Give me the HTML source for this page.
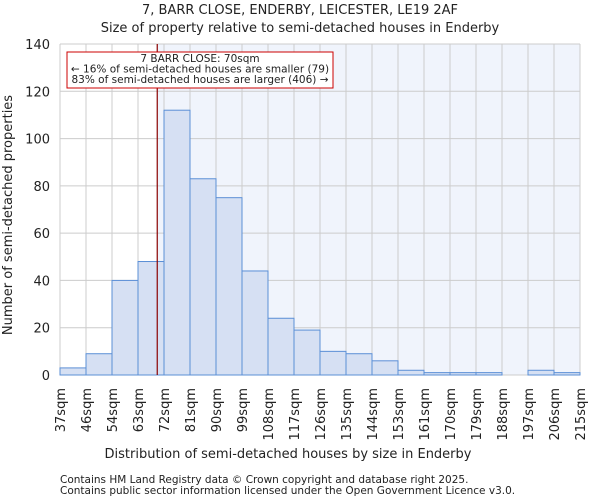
<!DOCTYPE html>
<html><head><meta charset="utf-8"><style>
body{margin:0;background:#fff;font-family:"DejaVu Sans","Liberation Sans",sans-serif;}
svg text{font-family:"DejaVu Sans","Liberation Sans",sans-serif;fill:#222;}
</style></head><body>
<svg id="chart" width="600" height="500" xmlns="http://www.w3.org/2000/svg">
<text x="300" y="14" font-size="13" text-anchor="middle">7, BARR CLOSE, ENDERBY, LEICESTER, LE19 2AF</text>
<text x="300" y="32" font-size="13" text-anchor="middle">Size of property relative to semi-detached houses in Enderby</text>
<g id="plot"></g>
<text x="288" y="458" font-size="13" text-anchor="middle">Distribution of semi-detached houses by size in Enderby</text>
<text transform="translate(12,215) rotate(-90)" font-size="13" text-anchor="middle">Number of semi-detached properties</text>
<text x="60" y="483" font-size="10.5">Contains HM Land Registry data © Crown copyright and database right 2025.</text>
<text x="60" y="494" font-size="10.5">Contains public sector information licensed under the Open Government Licence v3.0.</text>
</svg>
<script>
const binLabels=["37sqm","46sqm","54sqm","63sqm","72sqm","81sqm","90sqm","99sqm","108sqm","117sqm","126sqm","135sqm","144sqm","153sqm","161sqm","170sqm","179sqm","188sqm","197sqm","206sqm","215sqm"];
const counts=[3,9,40,48,112,83,75,44,24,19,10,9,6,2,1,1,1,0,2,1];
const yTicks=[0,20,40,60,80,100,120,140];
const propertyPos=3.74; // bin-index position of 70sqm
const NS="http://www.w3.org/2000/svg";
const L=60,R=580,T=44,B=375,yMax=140;
const bw=(R-L)/counts.length;
const xs=i=>L+i*bw;
const ys=v=>B-(v/yMax)*(B-T);
const g=document.getElementById('plot');
function mk(t,a){const e=document.createElementNS(NS,t);for(const k in a)e.setAttribute(k,a[k]);g.appendChild(e);return e;}
const px=xs(propertyPos);
let e=mk('rect',{x:L,y:T,width:px-L,height:B-T,fill:'#ffffff'});


e=mk('rect',{x:px,y:T,width:R-px,height:B-T,fill:'#f0f4fc'});


yTicks.forEach(v=>{
 let l=mk('line',{x1:L,x2:R,y1:ys(v),y2:ys(v),stroke:'#cccccc','stroke-width':1});
 
 
 let t=mk('text',{x:L-10,y:ys(v)+5,'font-size':13,'text-anchor':'end'});t.textContent=v;
 
 
});
binLabels.forEach((s,i)=>{
 let l=mk('line',{x1:xs(i),x2:xs(i),y1:T,y2:B,stroke:'#cccccc','stroke-width':1});
 
 
 let t=mk('text',{transform:`translate(${xs(i)+5},388) rotate(-90)`,'font-size':13,'text-anchor':'end'});t.textContent=s;
 
 
});
counts.forEach((v,i)=>{
 let r=mk('rect',{x:xs(i),y:ys(v),width:bw,height:B-ys(v),fill:'#d6e0f3',stroke:'#5b8fd6','stroke-width':1});
 
 
});
e=mk('line',{x1:px,x2:px,y1:T,y2:B,stroke:'#8b0000','stroke-width':1.2});


e=mk('rect',{x:67,y:52,width:266,height:36,fill:'#fff',stroke:'#cc0000','stroke-width':1});


["7 BARR CLOSE: 70sqm","← 16% of semi-detached houses are smaller (79)","83% of semi-detached houses are larger (406) →"].forEach((s,i)=>{
 let t=mk('text',{x:200,y:62+i*10.5,'font-size':10.5,'text-anchor':'middle'});t.textContent=s;
 
 
});
</script>
</body></html>
